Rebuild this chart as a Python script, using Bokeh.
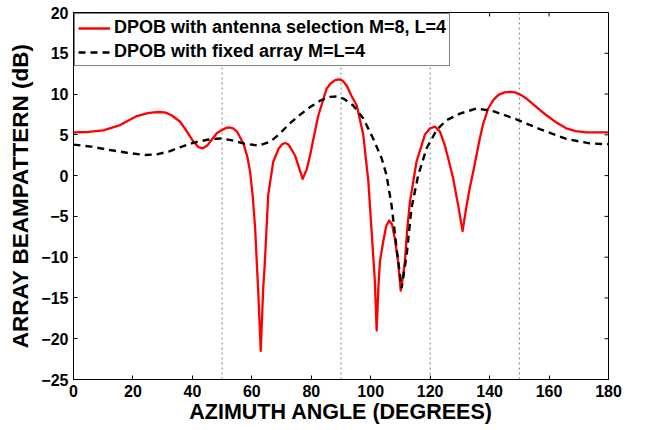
import math
from bokeh.plotting import figure
from bokeh.models import Range1d, FixedTicker, Span, Legend, LegendItem
from bokeh.embed import file_html
from bokeh.resources import INLINE

# ---- data ----
ang_sel = [0, 5, 10, 15.7, 21.3, 25, 27, 29, 31, 33, 35.9, 38, 40.4, 42, 43.5, 45, 48.2,
           50, 51.3, 52.4, 53.7, 55, 57.2, 58.5, 59.4, 60.3, 61.1, 62.2, 63, 63.8, 64.4,
           65.5, 67.2, 69, 70.2, 71.2, 72.2, 73, 74.5, 77.1, 78.5, 79.6, 81, 82.4, 84,
           85.2, 86.5, 88, 89.3, 90.5, 92, 93.5, 95.3, 97.5, 99.2, 100.6, 101.4, 102,
           102.6, 103.1, 104.2, 105.2, 106.2, 107.2, 108.1, 109.2, 110.1, 110.8, 111.5,
           112.3, 113.2, 115.4, 118.2, 120, 121.6, 123.3, 124.9, 126.3, 127.7, 129.5,
           130.9, 132.2, 133.3, 134.5, 136.7, 137.8, 139.5, 141.2, 143, 145, 146.8,
           148.5, 150.5, 152.4, 155.5, 159.1, 162.5, 165.8, 169, 172.6, 176, 180]
db_sel = [5.3, 5.35, 5.55, 6.2, 7.3, 7.65, 7.75, 7.8, 7.72, 7.4, 6.6, 5.5, 4.15, 3.5,
          3.35, 3.7, 5.2, 5.6, 5.85, 5.9, 5.8, 5.4, 3.9, 2.3, 0.5, -2.5, -6.4, -14.6,
          -21.5, -14, -10.5, -2.4, 1.7, 3.3, 3.85, 4.0, 3.85, 3.4, 2.5, -0.4, 0.8, 2.5,
          5.0, 7.4, 9.3, 10.7, 11.3, 11.7, 11.8, 11.65, 11.0, 9.8, 8.6, 5.0, -0.7, -8.5,
          -13, -19, -13.5, -10.5, -8.1, -6.2, -5.5, -6.0, -7.7, -10.5, -14.1, -12.5,
          -10.5, -6.5, -3.2, 1.7, 5.0, 5.8, 6.0, 5.4, 3.75, 1.8, -0.3, -3.8, -6.8, -3.8,
          -1.55, 0.5, 4.56, 6.3, 8.2, 9.25, 9.9, 10.2, 10.27, 10.2, 9.9, 9.45, 8.5, 7.4,
          6.5, 5.8, 5.45, 5.3, 5.3, 5.3]

ang_fix = [0, 6, 12.3, 18, 24.1, 28, 32.5, 36, 40.3, 45, 49.3, 53, 57.2, 62.2, 66.1,
           69, 72.8, 76, 79.6, 83, 86.3, 88.5, 90.8, 94.1, 97.5, 100.8, 103.7, 105.3,
           107, 108.7, 110.4, 112.1, 113.7, 116, 118.8, 122.2, 125.5, 130, 135.6,
           141.2, 149, 156.9, 165.8, 173.7, 180]
db_fix = [3.8, 3.55, 3.14, 2.8, 2.53, 2.6, 3.0, 3.5, 4.03, 4.4, 4.56, 4.35, 3.95, 3.67,
          4.15, 5.0, 6.4, 7.4, 8.4, 9.2, 9.66, 9.7, 9.45, 8.6, 7.0, 4.56, 2.1, 0.08,
          -3.6, -8.9, -13.8, -9.7, -4.0, 0.08, 3.35, 5.6, 6.8, 7.6, 8.23, 7.9, 6.9,
          5.7, 4.5, 3.95, 3.85]

marked_angles = [50, 90, 120, 150]
x_ticks = [0, 20, 40, 60, 80, 100, 120, 140, 160, 180]
y_ticks = [-25, -20, -15, -10, -5, 0, 5, 10, 15, 20]
label_sel = "DPOB with antenna selection M=8, L=4"
label_fix = "DPOB with fixed array M=L=4"

FONT = "Liberation Sans"
X0, X1 = x_ticks[0], x_ticks[-1]
Y0, Y1 = y_ticks[0], y_ticks[-1]

p = figure(width=640, height=426, output_backend="svg", toolbar_location=None,
           x_range=Range1d(X0, X1), y_range=Range1d(Y0, Y1),
           min_border_left=73, min_border_right=32, min_border_top=12, min_border_bottom=47)
p.xgrid.visible = False
p.ygrid.visible = False
p.outline_line_color = "black"
p.outline_line_width = 1
p.background_fill_color = "white"
p.border_fill_color = "white"

for a in marked_angles:
    p.add_layout(Span(location=a, dimension="height", line_color="#808080",
                      line_width=1, line_dash="2 3", level="underlay"))

r1 = p.line(ang_sel, db_sel, line_color="#ff0000", line_width=2.3, line_join="round")
r2 = p.line(ang_fix, db_fix, line_color="black", line_width=2.4, line_dash="7 5")

# inward ticks on the top and right frame edges
p.ray(x=x_ticks, y=[Y1] * len(x_ticks), length=4, length_units="screen",
      angle=-math.pi / 2, line_color="black", line_width=1)
p.ray(x=[X1] * len(y_ticks), y=y_ticks, length=4, length_units="screen",
      angle=math.pi, line_color="black", line_width=1)

def style_axis(ax, ticks, title, title_size):
    ax.ticker = FixedTicker(ticks=ticks)
    ax.major_tick_in = 4
    ax.major_tick_out = 0
    ax.minor_tick_line_color = None
    ax.axis_line_color = "black"
    ax.major_tick_line_color = "black"
    ax.major_label_text_font = FONT
    ax.major_label_text_font_style = "bold"
    ax.major_label_text_color = "black"
    ax.major_label_text_font_size = "16px"
    ax.major_label_overrides = {t: (("\u2212" + str(-t)) if t < 0 else str(t)) for t in ticks}
    ax.axis_label = title
    ax.axis_label_text_font = FONT
    ax.axis_label_text_font_style = "bold"
    ax.axis_label_text_color = "black"
    ax.axis_label_text_font_size = title_size

style_axis(p.xaxis[0], x_ticks, "AZIMUTH ANGLE (DEGREES)", "21.5px")
style_axis(p.yaxis[0], y_ticks, "ARRAY BEAMPATTERN (dB)", "22.5px")
p.xaxis[0].major_label_standoff = 5
p.xaxis[0].axis_label_standoff = 0
p.yaxis[0].major_label_standoff = 5
p.yaxis[0].axis_label_standoff = 5

legend = Legend(items=[LegendItem(label=label_sel, renderers=[r1]),
                       LegendItem(label=label_fix, renderers=[r2])],
                location="top_left", margin=1, padding=3, spacing=3,
                label_height=16, glyph_height=16, glyph_width=32, label_standoff=4,
                label_text_font=FONT, label_text_font_style="bold",
                label_text_font_size="18px", label_text_color="black",
                border_line_color="black", border_line_width=1,
                background_fill_color="white", background_fill_alpha=1)
p.add_layout(legend, "center")

open("out.html", "w").write(file_html(p, INLINE))
